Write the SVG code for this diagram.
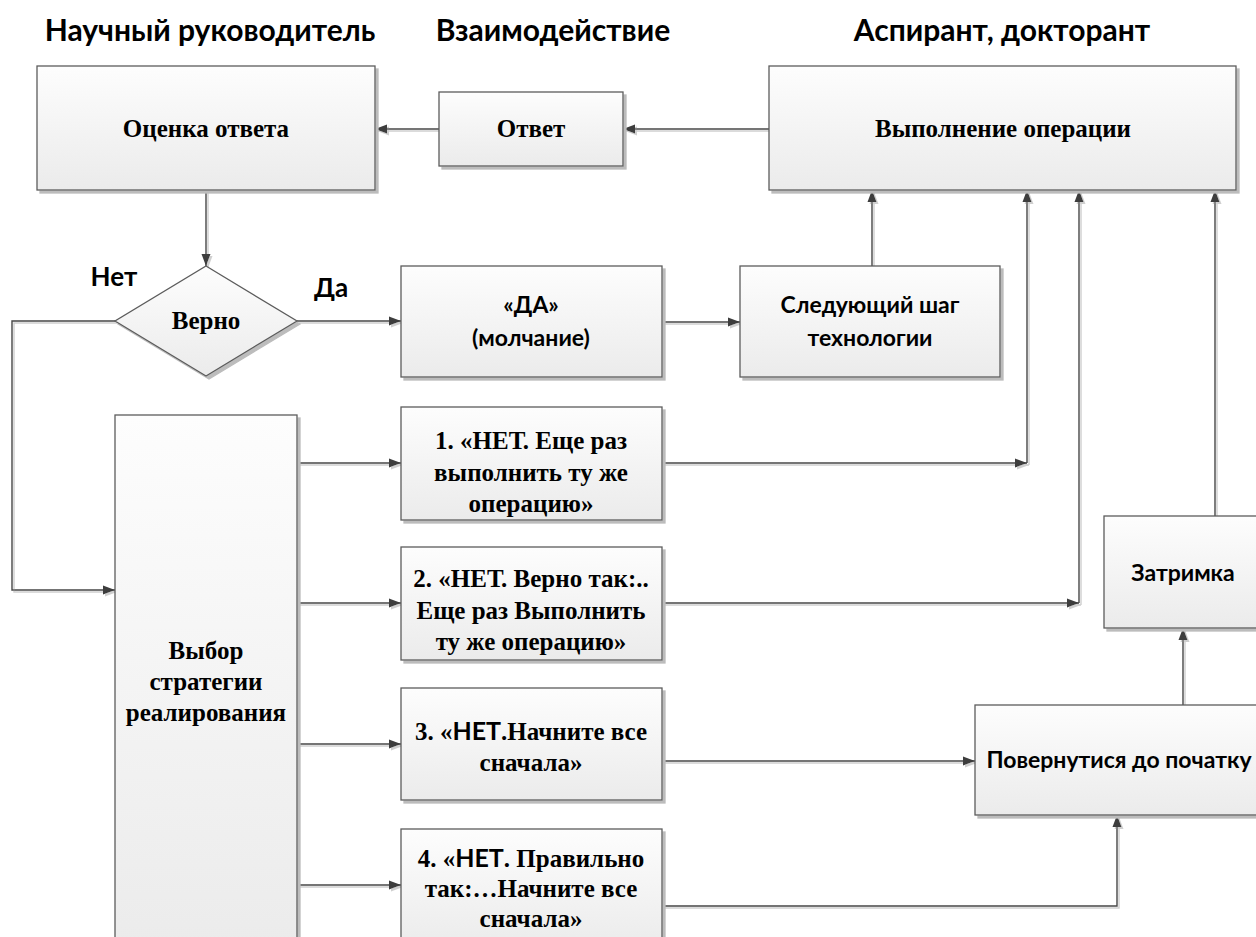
<svg xmlns="http://www.w3.org/2000/svg" width="1256" height="937" viewBox="0 0 1256 937">
  <defs>
    <linearGradient id="boxFill" x1="0" y1="0" x2="0" y2="1">
      <stop offset="0" stop-color="#fdfdfd"/>
      <stop offset="1" stop-color="#ebebeb"/>
    </linearGradient>
    <filter id="boxShadow" x="-5%" y="-5%" width="115%" height="115%">
      <feFlood flood-color="#bcbcbc"/>
      <feComposite in2="SourceAlpha" operator="in"/>
      <feOffset dx="3" dy="3"/>
      <feGaussianBlur stdDeviation="0.7"/>
      <feMerge><feMergeNode/><feMergeNode in="SourceGraphic"/></feMerge>
    </filter>
    <filter id="linkShadow" x="-5%" y="-5%" width="110%" height="110%">
      <feFlood flood-color="#cfcfcf"/>
      <feComposite in2="SourceAlpha" operator="in"/>
      <feOffset dx="1.5" dy="1.5"/>
      <feMerge><feMergeNode/><feMergeNode in="SourceGraphic"/></feMerge>
    </filter>
    <marker id="arrow" markerUnits="userSpaceOnUse" markerWidth="13" markerHeight="10" refX="12" refY="5" orient="auto">
      <path d="M0,0.5 L12,5 L0,9.5 z" fill="#3d3d3d"/>
    </marker>
    <style>
      .box { fill: url(#boxFill); stroke: #5c5c5c; stroke-width: 1.3; filter: url(#boxShadow); }
      .link { fill: none; stroke: #474747; stroke-width: 1.4; marker-end: url(#arrow); }
      .serif { font-family: "Liberation Serif", "Times New Roman", serif; font-weight: bold; font-size: 25px; fill: #000; text-anchor: middle; }
      .sans { font-family: Lato, "Liberation Sans", sans-serif; font-weight: bold; font-size: 23px; fill: #000; text-anchor: middle; }
      .head { font-family: Lato, "Liberation Sans", sans-serif; font-weight: bold; font-size: 30px; fill: #000; text-anchor: middle; }
      .mark { font-family: Lato, "Liberation Sans", sans-serif; font-weight: bold; font-size: 26px; fill: #000; text-anchor: middle; }
      .nsans { font-family: Lato, "Liberation Sans", sans-serif; }
    </style>
  </defs>

  <rect width="1256" height="937" fill="#ffffff"/>

  <!-- column headings -->
  <g id="headings">
    <text class="head" x="210" y="41">Научный руководитель</text>
    <text class="head" x="553" y="41">Взаимодействие</text>
    <text class="head" x="1002" y="41">Аспирант, докторант</text>
  </g>

  <!-- connectors -->
  <g id="connectors" filter="url(#linkShadow)">
    <path class="link" d="M769,129 H623"/>
    <path class="link" d="M439,129 H375"/>
    <path class="link" d="M206,190 V266"/>
    <path class="link" d="M297,321 H401"/>
    <path class="link" d="M115,321 H12 V590 H115"/>
    <path class="link" d="M662,322 H740"/>
    <path class="link" d="M872,266 V190"/>
    <path class="link" d="M297,463 H401"/>
    <path class="link" d="M297,603 H401"/>
    <path class="link" d="M297,744 H401"/>
    <path class="link" d="M297,885 H401"/>
    <path class="link" d="M662,463 H1027"/>
    <path class="link" d="M1027,463 V190"/>
    <path class="link" d="M662,603 H1079"/>
    <path class="link" d="M1079,603 V190"/>
    <path class="link" d="M662,761 H975"/>
    <path class="link" d="M662,906 H1117 V815"/>
    <path class="link" d="M1183,705 V628"/>
    <path class="link" d="M1215,516 V190"/>
  </g>

  <!-- supervisor column -->
  <g id="node-evaluate">
    <rect class="box" x="37" y="66" width="338" height="124"/>
    <text class="serif" x="206" y="137">Оценка ответа</text>
  </g>
  <g id="node-correct">
    <path class="box" d="M206,266 L297,321 L206,376 L115,321 z"/>
    <text class="serif" x="206" y="329">Верно</text>
  </g>
  <text id="label-no" class="mark" x="114" y="286">Нет</text>
  <text id="label-yes" class="mark" x="331" y="297">Да</text>
  <g id="node-strategy">
    <rect class="box" x="115" y="415" width="182" height="540"/>
    <text class="serif" x="206" y="659">Выбор</text>
    <text class="serif" x="206" y="690">стратегии</text>
    <text class="serif" x="206" y="721">реалирования</text>
  </g>

  <!-- interaction column -->
  <g id="node-answer">
    <rect class="box" x="439" y="92" width="184" height="74"/>
    <text class="serif" x="531" y="137">Ответ</text>
  </g>
  <g id="node-yes">
    <rect class="box" x="401" y="266" width="261" height="111"/>
    <text class="sans" x="531" y="313">«ДА»</text>
    <text class="sans" x="531" y="346">(молчание)</text>
  </g>
  <g id="node-s1">
    <rect class="box" x="401" y="407" width="261" height="113"/>
    <text class="serif" x="531" y="449">1. «НЕТ. Еще раз</text>
    <text class="serif" x="531" y="481">выполнить ту же</text>
    <text class="serif" x="531" y="512">операцию»</text>
  </g>
  <g id="node-s2">
    <rect class="box" x="401" y="547" width="261" height="113"/>
    <text class="serif" x="531" y="587">2. «НЕТ. Верно так:..</text>
    <text class="serif" x="531" y="619">Еще раз Выполнить</text>
    <text class="serif" x="531" y="650">ту же операцию»</text>
  </g>
  <g id="node-s3">
    <rect class="box" x="401" y="688" width="261" height="112"/>
    <text class="serif" x="531" y="740">3. «<tspan class="nsans">НЕТ</tspan>.Начните все</text>
    <text class="serif" x="531" y="771">сначала»</text>
  </g>
  <g id="node-s4">
    <rect class="box" x="401" y="829" width="261" height="120"/>
    <text class="serif" x="531" y="867">4. «<tspan class="nsans">НЕТ</tspan>. Правильно</text>
    <text class="serif" x="531" y="897">так:…Начните все</text>
    <text class="serif" x="531" y="927">сначала»</text>
  </g>

  <!-- student column -->
  <g id="node-execute">
    <rect class="box" x="769" y="66" width="467" height="124"/>
    <text class="serif" x="1003" y="137">Выполнение операции</text>
  </g>
  <g id="node-next">
    <rect class="box" x="740" y="266" width="260" height="111"/>
    <text class="sans" x="870" y="313">Следующий шаг</text>
    <text class="sans" x="870" y="346">технологии</text>
  </g>
  <g id="node-delay">
    <rect class="box" x="1104" y="516" width="180" height="112"/>
    <text class="sans" x="1183" y="581">Затримка</text>
  </g>
  <g id="node-restart">
    <rect class="box" x="975" y="705" width="310" height="110"/>
    <text class="sans" x="1119" y="768">Повернутися до початку</text>
  </g>
</svg>
